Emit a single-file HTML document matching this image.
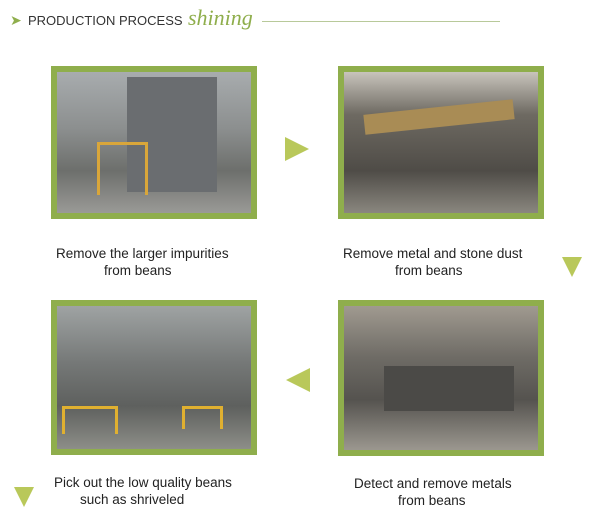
<!DOCTYPE html>
<html><head><style>
body{margin:0;width:600px;height:525px;background:#fff;position:relative;overflow:hidden;font-family:"Liberation Sans",sans-serif}
.box{position:absolute;width:194px;border:6px solid #8fae4c;}
.t{position:absolute;font-size:13.5px;color:#222;line-height:18px;white-space:nowrap}
.arr{position:absolute;width:0;height:0}
</style></head><body>
<div style="position:absolute;left:10px;top:12px;color:#8fae4c;font-size:14px">&#10148;</div>
<div class="t" style="left:28px;top:12px;font-size:13px;color:#333">PRODUCTION PROCESS</div>
<div style="position:absolute;left:188px;top:5px;font-family:'Liberation Serif',serif;font-style:italic;font-size:22px;color:#8fae4c">shining</div>
<div style="position:absolute;left:262px;top:21px;width:238px;height:1px;background:#b8c99a"></div>

<div class="box" style="left:51px;top:66px;height:141px;background:linear-gradient(180deg,#a8acae 0%,#8c8f8f 40%,#6d6f6c 70%,#9a9a96 100%)">
<div style="position:absolute;left:70px;top:5px;width:90px;height:115px;background:#6a6d70"></div>
<div style="position:absolute;left:40px;top:70px;width:45px;height:50px;border:3px solid #d9a63a;border-bottom:none"></div>
</div>
<div class="box" style="left:338px;top:66px;height:141px;background:linear-gradient(180deg,#c8c4bc 0%,#6e6a62 30%,#4f4c47 70%,#8a877f 100%)">
<div style="position:absolute;left:20px;top:35px;width:150px;height:20px;background:#a98c55;transform:rotate(-6deg)"></div>
</div>
<div class="box" style="left:51px;top:300px;height:143px;background:linear-gradient(180deg,#9fa3a3 0%,#757877 40%,#5e605e 70%,#8d8e88 100%)">
<div style="position:absolute;left:5px;top:100px;width:50px;height:25px;border:3px solid #e0b030;border-bottom:none"></div>
<div style="position:absolute;left:125px;top:100px;width:35px;height:20px;border:3px solid #e0b030;border-bottom:none"></div>
</div>
<div class="box" style="left:338px;top:300px;height:144px;background:linear-gradient(180deg,#a09a90 0%,#6f6c66 35%,#55534f 65%,#9b978f 100%)">
<div style="position:absolute;left:40px;top:60px;width:130px;height:45px;background:#4b4a47"></div>
</div>

<div class="arr" style="left:285px;top:137px;border-left:24px solid #b9c85a;border-top:12px solid transparent;border-bottom:12px solid transparent"></div>
<div class="arr" style="left:562px;top:257px;border-top:20px solid #b9c85a;border-left:10px solid transparent;border-right:10px solid transparent"></div>
<div class="arr" style="left:286px;top:368px;border-right:24px solid #b9c85a;border-top:12px solid transparent;border-bottom:12px solid transparent"></div>
<div class="arr" style="left:14px;top:487px;border-top:20px solid #b9c85a;border-left:10px solid transparent;border-right:10px solid transparent"></div>

<div class="t" style="left:56px;top:245px">Remove the larger impurities</div>
<div class="t" style="left:104px;top:262px">from beans</div>
<div class="t" style="left:343px;top:245px">Remove metal and stone dust</div>
<div class="t" style="left:395px;top:262px">from beans</div>
<div class="t" style="left:54px;top:474px">Pick out the low quality beans</div>
<div class="t" style="left:80px;top:491px">such as shriveled</div>
<div class="t" style="left:354px;top:475px">Detect and remove metals</div>
<div class="t" style="left:398px;top:492px">from beans</div>
</body></html>
